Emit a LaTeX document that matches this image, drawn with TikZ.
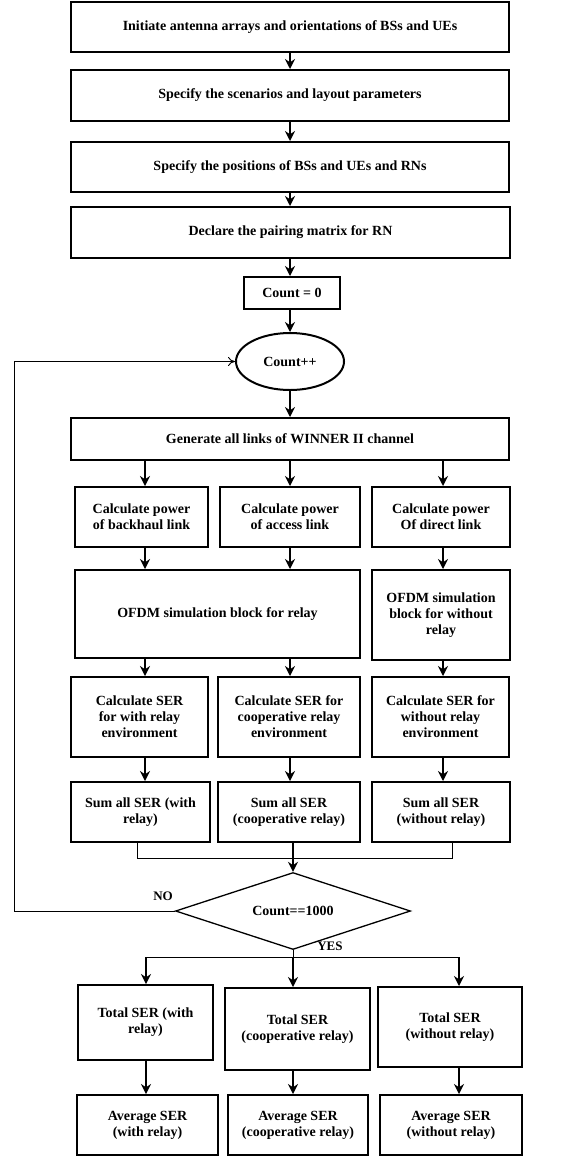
\documentclass[tikz,border=0pt]{standalone}
\usepackage{fontspec}
\setmainfont{Liberation Serif}
\usetikzlibrary{arrows.meta,shapes.geometric}

\begin{document}
\begin{tikzpicture}[x=1pt, y=-1pt,
  box/.style={draw, line width=2pt, align=center, inner sep=2pt,
    font=\fontsize{14}{16}\selectfont\bfseries},
  arr/.style={line width=1.6pt, -{Stealth[length=10pt,width=10pt]}},
  link/.style={line width=0.9pt}]
  \useasboundingbox (0,0) rectangle (565,1157);

  % columns of the three branches
  \coordinate (cA) at (145,0);
  \coordinate (cB) at (290,0);
  \coordinate (cC) at (443,0);

  % set-up steps
  \node[box, minimum width=438, minimum height=50] (init) at (290,27)
    {Initiate antenna arrays and orientations of BSs and UEs};
  \node[box, minimum width=438, minimum height=51] (scen) at (290,95.5)
    {Specify the scenarios and layout parameters};
  \node[box, minimum width=438, minimum height=50] (pos) at (290,167)
    {Specify the positions of BSs and UEs and RNs};
  \node[box, minimum width=439, minimum height=51] (pair) at (290.5,232.5)
    {Declare the pairing matrix for RN};
  \node[box, minimum width=96, minimum height=32] (cnt) at (292,293)
    {Count = 0};
  \node[box, ellipse, minimum width=108, minimum height=57] (inc) at (290,361.5)
    {Count++};
  \node[box, minimum width=438, minimum height=42] (gen) at (290,439)
    {Generate all links of WINNER II channel};

  % three branches
  \node[box, minimum width=133, minimum height=60] (powA) at (141.5,517)
    {Calculate power\\of backhaul link};
  \node[box, minimum width=140, minimum height=60] (powB) at (290,517)
    {Calculate power\\of access link};
  \node[box, minimum width=138, minimum height=60] (powC) at (441,517)
    {Calculate power\\Of direct link};
  \node[box, minimum width=285, minimum height=88] (ofR) at (217.5,614)
    {OFDM simulation block for relay};
  \node[box, minimum width=138, minimum height=90] (ofW) at (441,615)
    {OFDM simulation\\block for without\\relay};
  \node[box, minimum width=137, minimum height=80] (serA) at (139.5,717)
    {Calculate SER\\for with relay\\environment};
  \node[box, minimum width=142, minimum height=80] (serB) at (289,717)
    {Calculate SER for\\cooperative relay\\environment};
  \node[box, minimum width=137, minimum height=80] (serC) at (440.5,717)
    {Calculate SER for\\without relay\\environment};
  \node[box, minimum width=139, minimum height=60] (sumA) at (140.5,812)
    {Sum all SER (with\\relay)};
  \node[box, minimum width=142, minimum height=60] (sumB) at (289,812)
    {Sum all SER\\(cooperative relay)};
  \node[box, minimum width=138, minimum height=60] (sumC) at (441,812)
    {Sum all SER\\(without relay)};

  % decision
  \node[box, diamond, line width=1.3pt, inner sep=0pt, aspect=3,
    minimum width=235, minimum height=77] (dec) at (293,911) {Count==1000};
  \node[font=\fontsize{13}{15}\selectfont\bfseries] (no) at (163,896) {NO};
  \node[font=\fontsize{13}{15}\selectfont\bfseries] (yes) at (330,946) {YES};

  % results
  \node[box, minimum width=135, minimum height=75] (totA) at (145.5,1022.5)
    {Total SER (with\\relay)};
  \node[box, minimum width=145, minimum height=82] (totB) at (297.5,1029)
    {Total SER\\(cooperative relay)};
  \node[box, minimum width=144, minimum height=80] (totC) at (450,1027)
    {Total SER\\(without relay)};
  \node[box, minimum width=141, minimum height=60] (avgA) at (147.5,1125)
    {Average SER\\(with relay)};
  \node[box, minimum width=140, minimum height=60] (avgB) at (298,1125)
    {Average SER\\(cooperative relay)};
  \node[box, minimum width=142, minimum height=60] (avgC) at (451,1125)
    {Average SER\\(without relay)};

  % main column
  \draw[arr] (init.south -| cB) -- (scen.north -| cB);
  \draw[arr] (scen.south -| cB) -- (pos.north -| cB);
  \draw[arr] (pos.south -| cB) -- (pair.north -| cB);
  \draw[arr] (pair.south -| cB) -- (cnt.north -| cB);
  \draw[arr] (cnt.south -| inc.north) -- (inc.north);
  \draw[arr] (inc.south) -- (gen.north -| inc.south);

  % branches
  \draw[arr] (gen.south -| cA) -- (powA.north -| cA);
  \draw[arr] (gen.south -| cB) -- (powB.north -| cB);
  \draw[arr] (gen.south -| cC) -- (powC.north -| cC);
  \draw[arr] (powA.south -| cA) -- (ofR.north -| cA);
  \draw[arr] (powB.south -| cB) -- (ofR.north -| cB);
  \draw[arr] (powC.south -| cC) -- (ofW.north -| cC);
  \draw[arr] (ofR.south -| cA) -- (serA.north -| cA);
  \draw[arr] (ofR.south -| cB) -- (serB.north -| cB);
  \draw[arr] (ofW.south -| cC) -- (serC.north -| cC);
  \draw[arr] (serA.south -| cA) -- (sumA.north -| cA);
  \draw[arr] (serB.south -| cB) -- (sumB.north -| cB);
  \draw[arr] (serC.south -| cC) -- (sumC.north -| cC);

  % merge into the decision
  \coordinate (mL) at (137,858);
  \coordinate (mR) at (452,858);
  \draw[link] (sumA.south -| mL) -- (mL) -- (mR) -- (sumC.south -| mR);
  \draw[arr] (sumB.south -| dec.north) -- (dec.north);

  % loop back
  \coordinate (lp) at (14,0);
  \draw[link, -{To[length=7pt,width=9pt]}] (dec.west) -| (lp |- inc.west) -- (inc.west);

  % split to results
  \coordinate (yL) at (146,957);
  \coordinate (yR) at (459,957);
  \draw[link] (dec.south) -- (dec.south |- yL);
  \draw[link] (yL) -- (yR);
  \draw[arr] (yL) -- (totA.north -| yL);
  \draw[arr] (dec.south |- yL) -- (totB.north -| dec.south);
  \draw[arr] (yR) -- (totC.north -| yR);
  \draw[arr] (totA.south -| yL) -- (avgA.north -| yL);
  \draw[arr] (totB.south -| dec.south) -- (avgB.north -| dec.south);
  \draw[arr] (totC.south -| yR) -- (avgC.north -| yR);
\end{tikzpicture}
\end{document}
